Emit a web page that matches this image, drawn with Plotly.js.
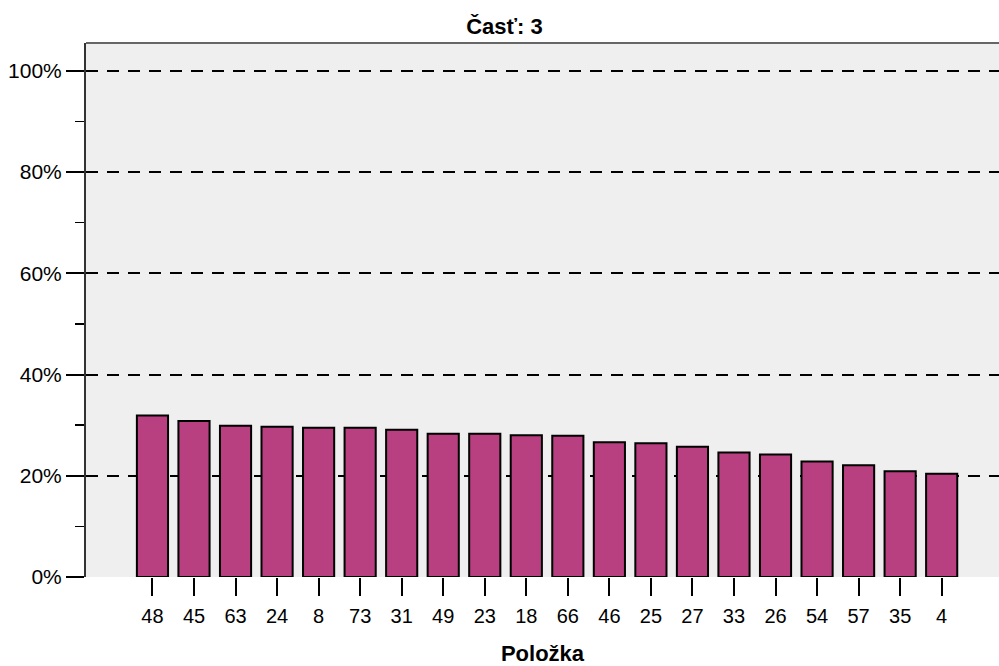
<!DOCTYPE html>
<html><head><meta charset="utf-8">
<script src="https://cdn.plot.ly/plotly-3.0.1.min.js"></script>
<style>html,body{margin:0;padding:0;background:#fff}#chart{width:999px;height:666px}</style>
</head><body><div id="chart"></div>
<script>
const categories = ["48","45","63","24","8","73","31","49","23","18","66","46","25","27","33","26","54","57","35","4"];
const values = [31.9,30.8,29.9,29.7,29.5,29.5,29.1,28.3,28.3,28.0,27.9,26.6,26.4,25.75,24.6,24.2,22.8,22.1,20.9,20.4];
const yTickVals = [0,20,40,60,80,100];
const yTickText = ["0%","20%","40%","60%","80%","100%"];

const trace = {
  type: 'bar', x: categories, y: values,
  marker: {color: '#B94080', line: {color: '#000', width: 2}},
  hoverinfo: 'skip'
};
const layout = {
  width: 999, height: 666,
  margin: {l: 86, r: 0, t: 43, b: 89},
  paper_bgcolor: '#fff', plot_bgcolor: '#EFEFEF',
  bargap: 0.25,
  font: {family: 'Arial, Liberation Sans, sans-serif', size: 20, color: '#000'},
  title: {text: '<b>Časť: 3</b>', x: 0.505, xref: 'container', xanchor: 'center', y: 0.961, yanchor: 'middle', font: {size: 22}},
  xaxis: {
    type: 'category', range: [-1.6, 20.38],
    showgrid: false, zeroline: false, showline: false,
    ticks: 'outside', ticklen: 18, tickwidth: 2, tickcolor: '#000',
    ticklabelstandoff: 3,
    tickfont: {size: 20},
    title: {text: '<b>Položka</b>', font: {size: 22}, standoff: 19}
  },
  yaxis: {
    range: [0, 105.5],
    tickvals: yTickVals, ticktext: yTickText,
    tickfont: {size: 21},
    showgrid: true, gridcolor: '#000', gridwidth: 2, griddash: '12px,9px',
    zeroline: false,
    showline: true, linecolor: '#333', linewidth: 2,
    ticks: 'outside', ticklen: 18, tickwidth: 2, tickcolor: '#000',
    ticklabelstandoff: 0,
    minor: {dtick: 10, tick0: 0, ticks: 'outside', ticklen: 9, tickwidth: 1.5, tickcolor: '#000', showgrid: false}
  },
  shapes: [
    {type: 'line', xref: 'paper', yref: 'paper', x0: 0, x1: 1, y0: 1, y1: 1, line: {color: '#666', width: 2}}
  ],
  showlegend: false
};
Plotly.newPlot('chart', [trace], layout, {displayModeBar: false, staticPlot: true});
</script></body></html>
